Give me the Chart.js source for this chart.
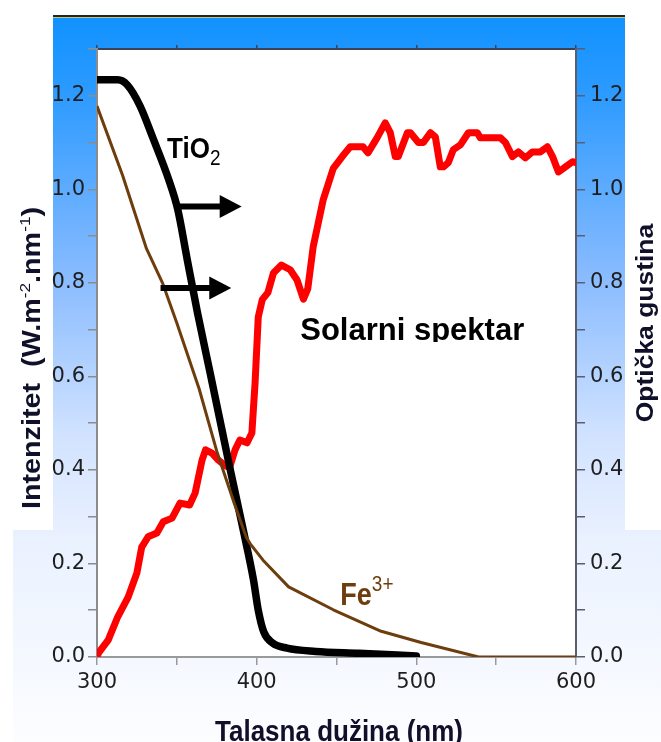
<!DOCTYPE html>
<html>
<head>
<meta charset="utf-8">
<script src="https://cdn.jsdelivr.net/npm/chart.js@4.4.1/dist/chart.umd.min.js"></script>
<style>
  html, body { margin: 0; padding: 0; background: #fff; overflow: hidden; }
  canvas { display: block; }
</style>
</head>
<body>
<canvas id="chart" width="661" height="742"></canvas>
<script>
/* ---------- podaci ---------- */
// TiO2 (crna)
const tioNm  = [300, 313, 319, 327, 335, 345, 350.5, 356.5, 363, 371, 383.5, 392, 398, 401, 404.5, 410, 419, 437, 464, 500];
const tioVal = [1.234, 1.234, 1.223, 1.178, 1.11, 1.02, 0.958, 0.85, 0.735, 0.605, 0.40, 0.265, 0.165, 0.10, 0.053, 0.03, 0.019, 0.012, 0.008, 0.002];

// Fe3+ (smeđa)
const feNm  = [300, 316, 331, 341, 350, 364, 375, 386, 393.5, 396, 404, 420, 448, 478, 503, 539, 600];
const feVal = [1.178, 1.03, 0.873, 0.80, 0.714, 0.573, 0.44, 0.328, 0.256, 0.242, 0.207, 0.15, 0.101, 0.055, 0.031, 0.0, 0.0];

// Solarni spektar (crvena)
const solNm  = [300, 301, 307, 313, 319.5, 325, 328, 332, 337.5, 341.5, 347, 352, 358, 361.5, 365.8, 368, 372, 376, 380, 383,
                386.5, 389.5, 394, 397, 399, 401, 403.5, 407, 410.5, 415.5, 421, 425.3, 429.3, 432, 435.4, 441.7, 448, 453.6, 458.6, 461.6,
                466.6, 469.7, 475.4, 480.5, 483.7, 486.8, 488.7, 494.4, 496.3, 501.3, 504.4, 508.8, 511.9, 515, 517, 520, 523.2, 527.6, 532.6, 538.2,
                540.1, 552.7, 555.8, 560.2, 563.9, 568.3, 572.7, 577.7, 582.1, 585.3, 589, 593.4, 597.8, 600];
const solVal = [0.0, 0.009, 0.036, 0.086, 0.128, 0.18, 0.235, 0.257, 0.265, 0.289, 0.297, 0.329, 0.325, 0.351, 0.421, 0.443, 0.436, 0.421, 0.41, 0.405,
                0.443, 0.464, 0.458, 0.479, 0.586, 0.727, 0.764, 0.779, 0.821, 0.838, 0.828, 0.806, 0.765, 0.787, 0.877, 0.978, 1.045, 1.07, 1.091, 1.091,
                1.091, 1.078, 1.11, 1.142, 1.121, 1.07, 1.07, 1.121, 1.121, 1.1, 1.1, 1.121, 1.112, 1.048, 1.048, 1.057, 1.085, 1.095, 1.121, 1.121,
                1.11, 1.11, 1.1, 1.07, 1.08, 1.067, 1.08, 1.08, 1.091, 1.07, 1.037, 1.048, 1.059, 1.057];

// strelice (nm od / nm do / nivo)
const arrowFrom  = [350.5, 339.8];
const arrowTo    = [390.6, 384.1];
const arrowLevel = [0.963, 0.789];

const BROWN = '#6e3d0e';
const BOLD  = '"Liberation Sans", Arial, sans-serif';
const toPts = (xs, ys) => xs.map((x, i) => ({ x, y: ys[i] }));

/* ---------- pomoćne ---------- */
// crta niz dijelova teksta (sa sub/superskriptom), vraća širinu
function drawParts(ctx, parts, startX) {
  let x = startX;
  parts.forEach(p => {
    ctx.font = p.font;
    ctx.fillText(p.t, x, p.dy || 0);
    x += ctx.measureText(p.t).width;
  });
  return x - startX;
}
function partsWidth(ctx, parts) {
  return parts.reduce((w, p) => { ctx.font = p.font; return w + ctx.measureText(p.t).width; }, 0);
}

/* ---------- pozadina ---------- */
const bgPlugin = {
  id: 'bg',
  beforeDraw(chart) {
    const { ctx, chartArea: a } = chart;
    ctx.save();
    ctx.fillStyle = '#fff';
    ctx.fillRect(0, 0, chart.width, chart.height);
    const g = ctx.createLinearGradient(0, 18, 0, 742);
    g.addColorStop(0.00, '#1192ff');
    g.addColorStop(0.10, '#2b9aff');
    g.addColorStop(0.35, '#86baff');
    g.addColorStop(0.58, '#d2e3ff');
    g.addColorStop(0.72, '#eaf1ff');
    g.addColorStop(0.88, '#f4f8ff');
    g.addColorStop(1.00, '#fcfdff');
    ctx.fillStyle = g;
    ctx.fillRect(53, 18, 572, 724);
    ctx.fillRect(13, 530, 40, 212);
    ctx.fillRect(625, 530, 36, 212);
    ctx.fillStyle = '#fff';
    ctx.fillRect(a.left, a.top, a.right - a.left, a.bottom - a.top);
    ctx.fillStyle = '#1c2438';
    ctx.fillRect(53, 15, 572, 2);
    ctx.fillStyle = '#c9c66a';
    ctx.fillRect(53, 17, 572, 1);
    ctx.restore();
  }
};

/* ---------- strelice i natpisi ---------- */
const labelPlugin = {
  id: 'labels',
  afterDatasetsDraw(chart) {
    const { ctx, scales: { x, y } } = chart;
    ctx.save();

    // strelice
    ctx.fillStyle = '#000';
    ctx.strokeStyle = '#000';
    arrowFrom.forEach((f, i) => {
      const x0 = x.getPixelForValue(f), x1 = x.getPixelForValue(arrowTo[i]);
      const py = y.getPixelForValue(arrowLevel[i]);
      const head = 22, half = 11.5;
      ctx.lineWidth = 6;
      ctx.beginPath(); ctx.moveTo(x0, py); ctx.lineTo(x1 - head + 1, py); ctx.stroke();
      ctx.beginPath();
      ctx.moveTo(x1, py); ctx.lineTo(x1 - head, py - half); ctx.lineTo(x1 - head, py + half);
      ctx.closePath(); ctx.fill();
    });

    ctx.textBaseline = 'alphabetic';
    ctx.textAlign = 'left';

    // TiO2
    ctx.save();
    ctx.translate(x.getPixelForValue(343.9), y.getPixelForValue(1.067));
    ctx.scale(1, 1.12);
    ctx.fillStyle = '#000';
    drawParts(ctx, [
      { t: 'TiO', font: 'bold 26px ' + BOLD },
      { t: '2', font: '19px ' + BOLD, dy: 6 }
    ], 0);
    ctx.restore();

    // Solarni spektar (dno slova odsječeno kao u originalu)
    ctx.save();
    ctx.beginPath(); ctx.rect(0, 0, chart.width, 342); ctx.clip();
    ctx.translate(x.getPixelForValue(427.3), y.getPixelForValue(0.678));
    ctx.scale(1, 1.03);
    ctx.fillStyle = '#000';
    drawParts(ctx, [{ t: 'Solarni spektar', font: 'bold 31px ' + BOLD }], 0);
    ctx.restore();

    // Fe3+
    ctx.save();
    ctx.translate(x.getPixelForValue(452.4), y.getPixelForValue(0.1116));
    ctx.scale(1, 1.13);
    ctx.fillStyle = BROWN;
    drawParts(ctx, [
      { t: 'Fe', font: 'bold 27px ' + BOLD },
      { t: '3+', font: '19px ' + BOLD, dy: -12 }
    ], 0);
    ctx.restore();

    ctx.restore();
  },
  afterDraw(chart) {
    const { ctx } = chart;
    ctx.save();
    ctx.textBaseline = 'alphabetic';

    // lijevi naslov osi
    const left = [
      { t: 'Intenzitet  (W.m', font: 'bold 25px ' + BOLD },
      { t: '-2', font: '15px ' + BOLD, dy: -10 },
      { t: '.nm', font: 'bold 25px ' + BOLD },
      { t: '-1', font: '15px ' + BOLD, dy: -10 },
      { t: ')', font: 'bold 25px ' + BOLD }
    ];
    ctx.save();
    ctx.translate(40, 358);
    ctx.rotate(-Math.PI / 2);
    ctx.scale(1.15, 1);
    ctx.fillStyle = '#10102a';
    drawParts(ctx, left, -partsWidth(ctx, left) / 2);
    ctx.restore();

    // desni naslov osi
    const right = [{ t: 'Optička gustina', font: 'bold 23px ' + BOLD }];
    ctx.save();
    ctx.translate(653, 323);
    ctx.rotate(-Math.PI / 2);
    ctx.scale(1.15, 1);
    ctx.fillStyle = '#10102a';
    drawParts(ctx, right, -partsWidth(ctx, right) / 2);
    ctx.restore();

    // naslov x ose
    const bottom = [{ t: 'Talasna dužina (nm)', font: 'bold 26px ' + BOLD }];
    ctx.save();
    ctx.translate(339, 741);
    ctx.scale(1, 1.13);
    ctx.fillStyle = '#10102a';
    drawParts(ctx, bottom, -partsWidth(ctx, bottom) / 2);
    ctx.restore();

    ctx.restore();
  }
};

/* ---------- ose ---------- */
const tickFont = { family: '"DejaVu Sans", Verdana, sans-serif', size: 21 };
const yTickCb = v => (Math.round(v * 10) % 2 === 0 ? v.toFixed(1) : '');

function yAxis(position, width, color, pad) {
  return {
    type: 'linear', position, min: 0, max: 1.3,
    afterFit: s => { s.width = width; },
    border: { color, width: 2 },
    grid: { drawOnChartArea: false, tickLength: 9, color, lineWidth: 1.5 },
    ticks: { stepSize: 0.1, autoSkip: false, padding: pad, color: '#1e1e1e', font: tickFont, callback: yTickCb }
  };
}

new Chart(document.getElementById('chart'), {
  type: 'line',
  data: {
    datasets: [
      { label: 'Fe3+', data: toPts(feNm, feVal), borderColor: BROWN, borderWidth: 3,
        pointRadius: 0, tension: 0, order: 0, borderJoinStyle: 'round' },
      { label: 'TiO2', data: toPts(tioNm, tioVal), borderColor: '#000', borderWidth: 7.5,
        pointRadius: 0, cubicInterpolationMode: 'monotone', order: 1,
        borderJoinStyle: 'round', borderCapStyle: 'round' },
      { label: 'Solarni spektar', data: toPts(solNm, solVal), borderColor: '#ff0000', borderWidth: 7,
        pointRadius: 0, tension: 0, order: 2, borderJoinStyle: 'round', borderCapStyle: 'round' }
    ]
  },
  options: {
    responsive: false,
    animation: false,
    events: [],
    layout: { padding: 0 },
    plugins: { legend: { display: false }, tooltip: { enabled: false } },
    scales: {
      x: {
        type: 'linear', position: 'bottom', min: 300, max: 600,
        afterFit: s => { s.height = 85; },
        border: { color: '#9a9a9a', width: 2 },
        grid: { drawOnChartArea: false, tickLength: 8, color: '#9a9a9a', lineWidth: 1.5 },
        ticks: { stepSize: 50, autoSkip: false, maxRotation: 0, padding: 5, color: '#1e1e1e', font: tickFont,
                 callback: v => (v % 100 === 0 ? String(v) : '') }
      },
      x2: {
        type: 'linear', position: 'top', min: 300, max: 600,
        afterFit: s => { s.height = 49; },
        border: { color: '#3c4256', width: 2 },
        grid: { drawOnChartArea: false, tickLength: 4, color: '#3c4256', lineWidth: 1.5 },
        ticks: { stepSize: 50, display: false }
      },
      y: yAxis('left', 97, '#8c8c8c', 3),
      y2: yAxis('right', 85, '#5a5e6e', 5)
    }
  },
  plugins: [bgPlugin, labelPlugin]
});
</script>
</body>
</html>
